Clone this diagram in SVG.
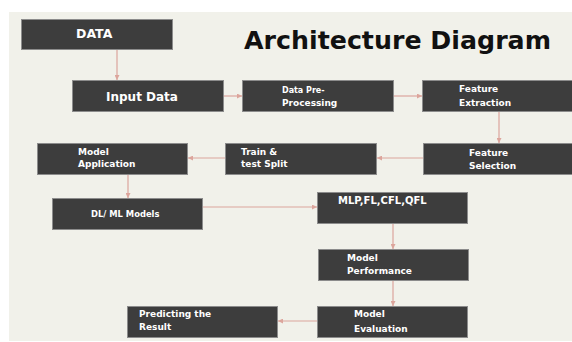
<svg xmlns="http://www.w3.org/2000/svg" width="572" height="342" viewBox="0 0 572 342">
  <style>
    .box { fill: #3d3d3d; stroke: #8c8c8c; stroke-width: 1; }
    .lbl { fill: #ffffff; font-family: "DejaVu Sans", "Liberation Sans", sans-serif; font-weight: bold; font-size: 9px; }
    .link { fill: none; stroke: #dca59c; stroke-width: 1.2; marker-end: url(#arrow); }
    .title { fill: #111111; font-family: "DejaVu Sans", "Liberation Sans", sans-serif; font-weight: bold; font-size: 24px; }
  </style>
  <defs>
    <marker id="arrow" viewBox="0 0 6 6" refX="6" refY="3" markerWidth="5" markerHeight="5" orient="auto" markerUnits="userSpaceOnUse">
      <path d="M0,0 L6,3 L0,6 z" fill="#dca59c"/>
    </marker>
  </defs>

  <!-- canvas -->
  <rect x="0" y="0" width="572" height="342" fill="#ffffff"/>
  <rect x="9" y="12" width="563" height="329" fill="#f1f1ea"/>

  <text class="title" x="244" y="49" textLength="307" lengthAdjust="spacingAndGlyphs">Architecture Diagram</text>

  <!-- connectors -->
  <g id="connectors">
    <path class="link" d="M117,50 L117,80"/>
    <path class="link" d="M224,96 L242,96"/>
    <path class="link" d="M393,96 L422,96"/>
    <path class="link" d="M499,112 L499,143"/>
    <path class="link" d="M423,158 L377,158"/>
    <path class="link" d="M225,158 L188,158"/>
    <path class="link" d="M128,174 L128,198"/>
    <path class="link" d="M203,207 L317,207"/>
    <path class="link" d="M393,223 L393,249"/>
    <path class="link" d="M393,280 L393,306"/>
    <path class="link" d="M317,321 L278,321"/>
  </g>

  <g id="data">
    <rect class="box" x="21.5" y="19.5" width="151" height="30"/>
    <text class="lbl" x="76" y="38" style="font-size:12.5px">DATA</text>
  </g>

  <g id="input-data">
    <rect class="box" x="72.5" y="80.5" width="151" height="31"/>
    <text class="lbl" x="106" y="101" style="font-size:12px">Input Data</text>
  </g>

  <g id="preprocessing">
    <rect class="box" x="242.5" y="80.5" width="151" height="31"/>
    <text class="lbl" x="282" y="93" style="font-size:8px">Data Pre-</text>
    <text class="lbl" x="282" y="106">Processing</text>
  </g>

  <g id="feature-extraction">
    <rect class="box" x="422.5" y="80.5" width="155" height="31"/>
    <text class="lbl" x="459" y="92">Feature</text>
    <text class="lbl" x="459" y="106">Extraction</text>
  </g>

  <g id="feature-selection">
    <rect class="box" x="423.5" y="143.5" width="155" height="31"/>
    <text class="lbl" x="469" y="156">Feature</text>
    <text class="lbl" x="469" y="169">Selection</text>
  </g>

  <g id="train-test-split">
    <rect class="box" x="225.5" y="143.5" width="151" height="31"/>
    <text class="lbl" x="241" y="155">Train &amp;</text>
    <text class="lbl" x="241" y="167">test Split</text>
  </g>

  <g id="model-application">
    <rect class="box" x="37.5" y="143.5" width="150" height="31"/>
    <text class="lbl" x="78" y="155">Model</text>
    <text class="lbl" x="78" y="167">Application</text>
  </g>

  <g id="dl-ml-models">
    <rect class="box" x="52.5" y="198.5" width="150" height="31"/>
    <text class="lbl" x="91" y="217" style="font-size:8.4px">DL/ ML Models</text>
  </g>

  <g id="mlp-fl-cfl-qfl">
    <rect class="box" x="317.5" y="192.5" width="150" height="31"/>
    <text class="lbl" x="338" y="204" style="font-size:10px">MLP,FL,CFL,QFL</text>
  </g>

  <g id="model-performance">
    <rect class="box" x="318.5" y="249.5" width="150" height="31"/>
    <text class="lbl" x="347" y="261">Model</text>
    <text class="lbl" x="347" y="274">Performance</text>
  </g>

  <g id="model-evaluation">
    <rect class="box" x="317.5" y="306.5" width="150" height="31"/>
    <text class="lbl" x="354" y="317">Model</text>
    <text class="lbl" x="354" y="332">Evaluation</text>
  </g>

  <g id="predicting-result">
    <rect class="box" x="127.5" y="306.5" width="150" height="31"/>
    <text class="lbl" x="139" y="317">Predicting the</text>
    <text class="lbl" x="139" y="330">Result</text>
  </g>
</svg>
